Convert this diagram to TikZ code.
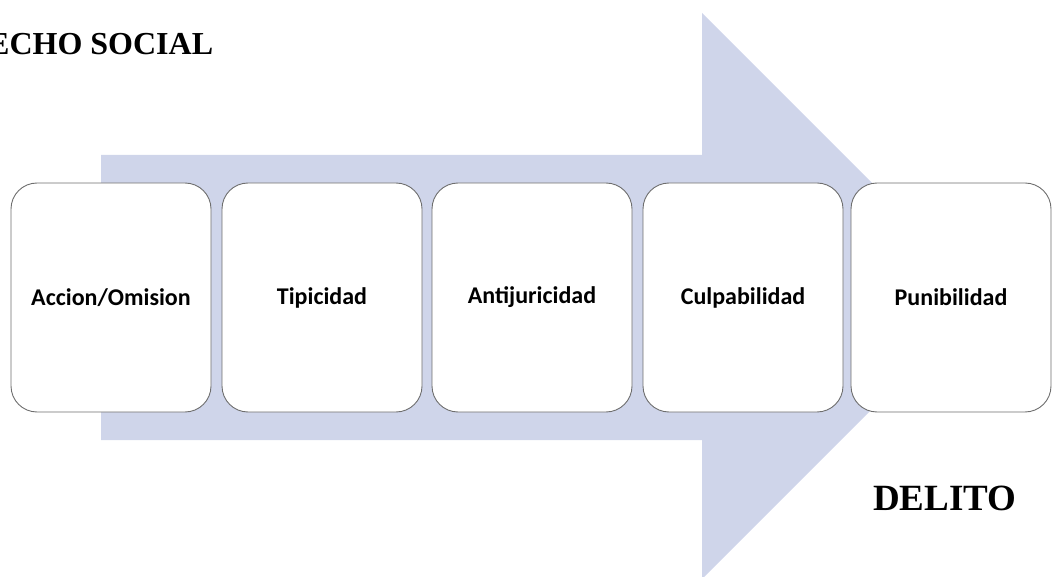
\documentclass[tikz,border=0pt]{standalone}
\usepackage{fontspec}
\setmainfont{Liberation Serif}
\newfontfamily\calib{Carlito}
\definecolor{arrowfill}{HTML}{CFD5EA}
\definecolor{boxline}{HTML}{6E6E6E}
\begin{document}
\begin{tikzpicture}[x=1pt,y=-1pt,
  stage/.style={draw=boxline,line width=0.9pt,fill=white,rounded corners=26pt,
    minimum width=200pt,minimum height=229pt,inner sep=0pt,
    font=\calib\bfseries\fontsize{24}{28}\selectfont},
  title/.style={font=\bfseries\fontsize{32}{38}\selectfont,inner sep=0pt}]
\useasboundingbox (0,0) rectangle (1052,577);
\fill[arrowfill] (101,155) -- (702,155) -- (702,13) -- (985,296) -- (702,579) -- (702,440) -- (101,440) -- cycle;
\node[stage] (a) at (111,297.5) {Accion/Omision};
\node[stage] (t) at (322,297.5) {Tipicidad};
\node[stage] (j) at (532,297.5) {Antijuricidad};
\node[stage] (c) at (743,297.5) {Culpabilidad};
\node[stage] (p) at (951,297.5) {Punibilidad};
\node[title,anchor=base west] (hs) at (-12,55) {ECHO SOCIAL};
\node[title,anchor=base west,font=\bfseries\fontsize{37}{42}\selectfont] (d) at (873,510) {DELITO};
\end{tikzpicture}
\end{document}
